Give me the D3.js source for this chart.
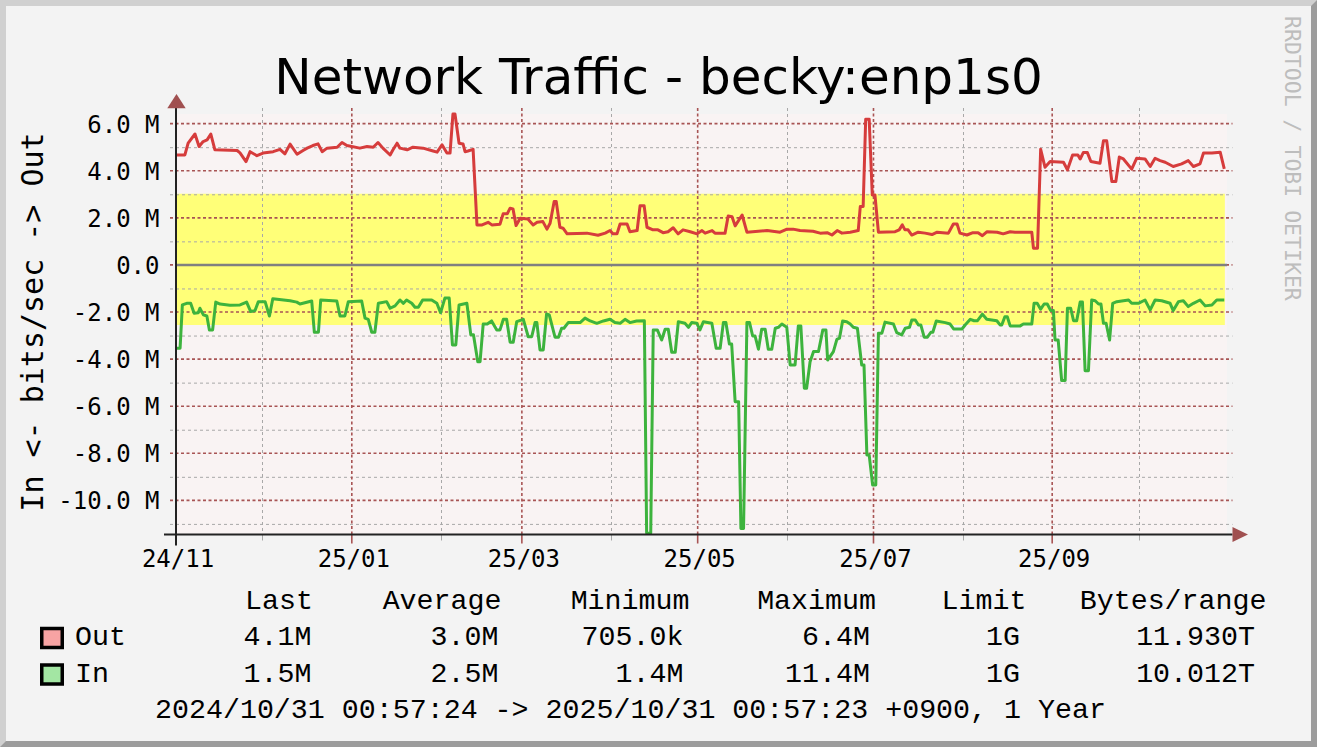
<!DOCTYPE html>
<html>
<head>
<meta charset="utf-8">
<script src="https://cdn.jsdelivr.net/npm/d3@7"></script>
<style>
	body { margin: 0; background: #f3f3f3; }
	svg { display: block; }
</style>
</head>
<body>
<script>
// data (Mbit/s, day offsets from 2024-11-01 JST)
var outDays = [0.3,3.1,4.2,6.6,8.0,9.4,10.8,12.1,13.5,21.2,
	22.2,24.3,25.7,28.1,30.2,33.7,36.1,37.8,39.6,42.0,
	44.1,45.5,47.5,49.3,50.7,52.4,55.9,57.6,59.3,63.8,
	66.3,68.4,70.1,71.8,74.3,75.3,76.7,77.7,80.2,82.2,
	85.7,89.2,90.6,92.3,94.0,95.1,96.1,96.8,98.2,99.6,
	100.3,101.3,103.1,104.4,106.2,108.3,109.6,112.4,113.5,114.9,
	115.9,116.9,118.0,119.4,122.1,123.9,125.3,127.3,128.7,129.8,
	131.2,131.9,133.2,134.3,135.7,142.6,146.4,148.9,150.6,151.6,
	153.0,154.1,156.5,157.5,160.0,161.0,162.4,163.4,165.5,167.2,
	169.0,170.7,172.5,174.2,175.9,178.4,180.8,182.5,183.6,186.0,
	187.0,190.5,191.6,192.9,194.0,196.4,198.1,205.1,209.6,212.0,
	214.1,216.5,221.0,223.5,225.9,227.6,229.4,231.1,233.9,236.7,
	237.4,238.4,239.3,240.5,241.6,242.5,243.7,249.5,250.9,252.0,
	252.9,254.0,255.3,257.5,259.9,262.3,264.1,268.0,269.7,271.0,
	272.0,274.4,276.5,278.3,279.8,281.4,284.9,287.0,289.4,291.1,
	296.9,297.5,298.9,300.0,301.5,303.3,307.9,309.3,311.1,312.9,
	313.7,314.8,316.2,317.4,320.6,321.8,322.9,324.7,326.1,327.3,
	328.7,331.6,333.3,336.2,338.0,339.7,341.4,343.2,346.0,348.9,
	351.2,353.0,355.3,356.5,359.4,362.3,363.7];
var outMbps = [4.67,4.67,5.17,5.56,5.03,5.24,5.31,5.56,4.89,4.86,
	4.76,4.39,4.81,4.64,4.75,4.81,4.91,4.72,5.13,4.70,
	4.86,4.96,5.07,5.14,4.81,4.96,5.00,5.20,5.07,4.96,
	5.03,5.00,5.20,4.96,4.67,4.89,5.17,4.96,4.89,5.00,
	4.96,4.84,4.79,5.10,4.75,4.75,6.41,6.41,5.17,5.14,
	4.81,4.84,4.91,1.70,1.70,1.81,1.70,1.73,2.17,2.17,
	2.41,2.38,1.67,1.98,1.95,1.70,1.81,1.84,1.52,1.77,
	2.69,2.69,1.60,1.56,1.32,1.35,1.26,1.35,1.46,1.32,
	1.32,1.74,1.74,1.41,1.46,2.51,2.51,1.60,1.49,1.49,
	1.37,1.41,1.58,1.32,1.49,1.41,1.32,1.46,1.35,1.46,
	1.35,1.35,2.08,2.05,1.66,2.12,1.39,1.46,1.39,1.52,
	1.52,1.46,1.43,1.35,1.37,1.27,1.46,1.35,1.39,1.46,
	2.48,2.48,6.19,6.19,2.97,2.97,1.39,1.41,1.49,1.70,
	1.49,1.49,1.27,1.39,1.35,1.29,1.39,1.35,1.74,1.74,
	1.35,1.27,1.37,1.37,1.24,1.41,1.39,1.32,1.41,1.39,
	1.39,0.71,0.71,4.91,4.15,4.39,4.36,4.04,4.67,4.67,
	4.50,4.77,4.77,4.39,4.32,5.27,5.27,3.54,3.54,4.58,
	4.50,4.07,4.53,4.50,4.18,4.53,4.43,4.36,4.18,4.29,
	4.43,4.18,4.29,4.75,4.75,4.79,4.08];

var inDays = [0.2,1.4,2.2,3.7,5.1,6.3,7.7,8.3,9.5,10.7,
	11.6,12.7,13.8,15.3,18.7,22.2,24.5,25.9,27.4,28.6,
	30.9,32.4,33.6,39.6,41.9,43.0,47.1,48.0,49.4,50.2,
	55.8,56.9,58.6,59.8,64.4,65.6,66.7,67.9,69.0,70.2,
	73.1,74.3,76.0,77.7,78.9,80.0,81.8,82.9,84.1,85.6,
	88.7,90.5,91.8,93.3,94.8,95.9,97.1,98.2,100.9,102.3,
	103.2,104.7,105.5,106.6,108.0,109.5,111.3,112.4,113.6,114.7,
	115.9,117.0,118.2,120.5,122.2,123.4,124.6,125.2,126.3,127.4,
	128.6,129.5,131.5,132.7,133.8,134.6,136.1,140.2,141.9,143.7,
	146.0,148.3,150.6,152.3,154.1,155.8,157.5,159.8,162.5,163.3,
	164.7,165.6,167.0,168.5,169.7,170.8,172.0,173.2,174.3,176.6,
	177.8,178.9,180.7,181.8,183.0,185.9,187.4,188.8,189.9,190.8,
	192.0,192.8,194.0,195.2,196.0,196.9,198.1,199.0,200.1,200.9,
	202.1,203.2,204.4,205.5,206.7,207.9,209.0,210.2,211.9,213.1,
	214.8,215.9,216.8,218.0,218.8,220.0,221.2,222.9,224.4,225.5,
	226.1,228.1,229.3,230.2,231.3,232.7,233.9,235.0,236.4,237.9,
	238.7,239.7,240.5,241.7,242.8,243.7,244.9,246.0,248.9,250.1,
	251.8,253.0,254.5,255.3,256.5,257.6,258.4,259.6,260.7,261.9,
	262.6,263.8,266.9,268.6,269.8,272.7,273.8,275.6,276.9,278.1,
	279.8,281.3,284.8,285.9,286.5,287.6,288.4,289.4,292.9,294.0,
	296.9,297.7,298.8,300.0,301.2,302.3,303.5,304.4,305.0,306.1,
	307.3,308.5,309.3,310.4,311.4,312.5,313.7,314.5,315.4,316.6,
	317.7,318.9,320.1,320.9,321.8,322.7,323.9,325.0,326.4,328.7,
	330.5,331.6,333.9,336.2,338.0,339.7,342.0,344.9,346.0,347.8,
	349.5,351.2,353.0,355.3,357.1,359.4,361.1,363.7];
var inMbps = [3.54,3.54,1.70,1.63,1.63,2.05,2.03,1.84,2.12,2.17,
	2.76,2.76,1.58,1.66,1.71,1.70,1.58,1.98,1.94,1.56,
	1.56,2.17,1.44,1.52,1.58,1.66,1.53,2.86,2.86,1.49,
	1.53,2.17,2.17,1.56,1.53,2.26,2.31,2.86,2.86,1.63,
	1.56,1.84,1.74,1.49,1.63,1.49,1.63,1.80,1.80,1.49,
	1.49,1.63,2.03,1.41,1.41,3.40,3.40,1.70,1.63,2.97,
	2.97,4.11,4.11,2.51,2.51,2.38,2.76,2.76,2.31,2.31,
	3.28,3.28,2.41,2.31,3.05,3.05,2.45,2.45,3.61,3.61,
	2.08,2.12,3.07,3.07,2.69,2.69,2.45,2.45,2.26,2.38,
	2.48,2.38,2.31,2.45,2.48,2.31,2.45,2.38,2.37,11.40,
	11.40,2.76,2.76,3.19,2.73,2.73,3.71,3.71,2.41,2.48,
	2.65,2.45,2.48,2.76,2.41,2.48,3.54,3.54,2.45,2.45,
	3.36,3.36,5.81,5.81,11.19,11.19,2.45,2.45,3.02,3.02,
	3.58,2.73,2.73,3.58,3.58,2.69,2.65,2.51,2.65,4.25,
	4.25,2.59,2.59,5.24,5.24,4.11,3.68,3.68,2.76,2.76,
	4.04,3.68,3.16,3.11,2.38,2.41,2.51,2.65,2.69,4.25,
	4.25,8.07,8.07,9.35,9.35,2.90,2.90,2.43,2.51,2.88,
	2.97,2.69,2.65,2.34,2.34,2.55,2.55,3.07,3.07,2.86,
	2.86,2.38,2.45,2.51,2.72,2.72,2.55,2.31,2.37,2.37,
	2.09,2.31,2.37,2.55,2.55,2.20,2.20,2.59,2.59,2.51,
	2.51,1.63,1.63,1.88,1.66,1.66,1.94,1.94,3.19,3.19,
	4.91,4.91,1.84,1.84,2.37,2.37,1.58,1.58,4.49,4.49,
	1.49,1.52,1.66,1.66,2.48,2.48,3.19,1.63,1.56,1.52,
	1.49,1.63,1.63,1.49,1.91,1.49,1.52,1.63,1.94,1.56,
	1.52,1.77,1.63,1.49,1.74,1.70,1.49,1.49];

// averages shown as the yellow band
var avgOut = 3.02;
var avgIn = 2.55;
var bandDays = [0, 363.9];

var yLabelValues = [-10, -8, -6, -4, -2, 0, 2, 4, 6];
var legendHeaders = ['Last', 'Average', 'Minimum', 'Maximum', 'Limit', 'Bytes/range'];
var outStats = ['4.1M', '3.0M', '705.0k', '6.4M', '1G', '11.930T'];
var inStats = ['1.5M', '2.5M', '1.4M', '11.4M', '1G', '10.012T'];
var titleText = 'Network Traffic - becky:enp1s0';
var yTitle = 'In <- bits/sec -> Out';
var periodText = '2024/10/31 00:57:24 -> 2025/10/31 00:57:23 +0900, 1 Year';
var watermark = 'RRDTOOL / TOBI OETIKER';

var rangeStart = new Date(Date.UTC(2024, 10, 1));
var rangeEnd = new Date(Date.UTC(2025, 10, 1));

function toPoints (days, vals, sign) {
	return days.map(function (d, i) {
		return { date: d3.utcHour.offset(rangeStart, Math.round(d * 24)), v: sign * vals[i] };
	});
}
var outData = toPoints(outDays, outMbps, 1);
var inData = toPoints(inDays, inMbps, -1);

// chart
var W = 1317, H = 747;
var plot = { left: 176, right: 1228, top: 114, bottom: 534.5 };
var mono = 'DejaVu Sans Mono';
var legendFont = 'Liberation Mono';
var gridRed = '#a85454';

var svg = d3.select('body').append('svg')
	.attr('width', W)
	.attr('height', H);

// frame
svg.append('rect').attr('width', W).attr('height', H).attr('fill', '#9c9c9c');
svg.append('path').attr('d', 'M0,0H' + W + 'L' + (W - 6) + ',6H6V' + (H - 6) + 'L0,' + H + 'Z').attr('fill', '#d0d0d0');
svg.append('rect').attr('x', 6).attr('y', 6).attr('width', W - 12).attr('height', H - 12).attr('fill', '#f3f3f3');

var x = d3.scaleUtc().domain([rangeStart, rangeEnd]).range([plot.left, plot.right]);
var y = d3.scaleLinear().domain([-11.45, 6.41]).range([plot.bottom, plot.top]);

svg.append('rect')
	.attr('x', plot.left)
	.attr('y', plot.top)
	.attr('width', plot.right - plot.left - 1)
	.attr('height', plot.bottom - plot.top)
	.attr('fill', '#f9f3f3');

// average band
var band = d3.area()
	.x(function (d) { return x(d3.utcHour.offset(rangeStart, Math.round(d * 24))); })
	.y0(y(-avgIn))
	.y1(y(avgOut));
svg.append('path').datum(bandDays).attr('d', band).attr('fill', '#ffff78');

// grid
var gridRight = 1232.5;
var months = d3.utcMonth.range(rangeStart, rangeEnd);
var majorMonths = months.filter(function (d, i) { return i % 2 === 0; });
var minorMonths = months.filter(function (d, i) { return i % 2 === 1; });
var minorY = d3.range(-11, 7, 2);
var majorY = d3.range(-10, 7, 2);

var grid = svg.append('g');
grid.selectAll('.hmin').data(minorY).enter().append('line')
	.attr('x1', plot.left - 6).attr('x2', gridRight)
	.attr('y1', function (d) { return y(d) + 0.5; }).attr('y2', function (d) { return y(d) + 0.5; })
	.attr('stroke', '#a8a8a8').attr('stroke-width', 1).attr('stroke-dasharray', '3,3');
grid.selectAll('.vmin').data(minorMonths).enter().append('line')
	.attr('x1', function (d) { return Math.round(x(d)) + 0.5; }).attr('x2', function (d) { return Math.round(x(d)) + 0.5; })
	.attr('y1', plot.top - 6).attr('y2', plot.bottom)
	.attr('stroke', '#a8a8a8').attr('stroke-width', 1).attr('stroke-dasharray', '3,3');
grid.selectAll('.vmintick').data(minorMonths).enter().append('line')
	.attr('x1', function (d) { return Math.round(x(d)) + 0.5; }).attr('x2', function (d) { return Math.round(x(d)) + 0.5; })
	.attr('y1', plot.bottom).attr('y2', plot.bottom + 6)
	.attr('stroke', '#a8a8a8').attr('stroke-width', 1);
grid.selectAll('.hmaj').data(majorY).enter().append('line')
	.attr('x1', plot.left - 6).attr('x2', gridRight)
	.attr('y1', function (d) { return y(d); }).attr('y2', function (d) { return y(d); })
	.attr('stroke', gridRed).attr('stroke-width', 1.6).attr('stroke-dasharray', '3,2.5');
grid.selectAll('.vmaj').data(majorMonths).enter().append('line')
	.attr('x1', function (d) { return x(d); }).attr('x2', function (d) { return x(d); })
	.attr('y1', plot.top - 6).attr('y2', plot.bottom)
	.attr('stroke', gridRed).attr('stroke-width', 1.6).attr('stroke-dasharray', '3,2.5');
grid.selectAll('.vmajtick').data(majorMonths).enter().append('line')
	.attr('x1', function (d) { return x(d); }).attr('x2', function (d) { return x(d); })
	.attr('y1', plot.bottom).attr('y2', plot.bottom + 9)
	.attr('stroke', gridRed).attr('stroke-width', 1.6);

// zero rule
svg.append('line')
	.attr('x1', plot.left).attr('x2', plot.right - 1)
	.attr('y1', y(0)).attr('y2', y(0))
	.attr('stroke', '#808080').attr('stroke-width', 2.5);

// lines
var line = d3.line()
	.x(function (d) { return x(d.date); })
	.y(function (d) { return y(d.v); });

svg.append('path').datum(outData).attr('d', line)
	.attr('fill', 'none').attr('stroke', '#d63c3c').attr('stroke-width', 3).attr('stroke-linejoin', 'round');
svg.append('path').datum(inData).attr('d', line)
	.attr('fill', 'none').attr('stroke', '#3db33d').attr('stroke-width', 3).attr('stroke-linejoin', 'round');

// axis lines + arrows
svg.append('line').attr('x1', plot.left - 12).attr('x2', gridRight).attr('y1', plot.bottom).attr('y2', plot.bottom)
	.attr('stroke', '#222').attr('stroke-width', 2);
svg.append('line').attr('x1', plot.left).attr('x2', plot.left).attr('y1', plot.top - 6).attr('y2', plot.bottom + 11)
	.attr('stroke', '#222').attr('stroke-width', 2);
svg.append('path').attr('d', 'M' + (plot.left - 8.7) + ',' + (plot.top - 5.7) + 'L' + (plot.left + 9.7) + ',' + (plot.top - 5.7) + 'L' + (plot.left + 0.5) + ',' + (plot.top - 20) + 'Z')
	.attr('fill', '#a05050');
svg.append('path').attr('d', 'M' + gridRight + ',' + (plot.bottom - 7.5) + 'L' + gridRight + ',' + (plot.bottom + 7.5) + 'L' + (gridRight + 15.5) + ',' + plot.bottom + 'Z')
	.attr('fill', '#a05050');

// tick labels
var yAxis = d3.axisLeft(y)
	.tickValues(yLabelValues)
	.tickSize(0)
	.tickPadding(16.5)
	.tickFormat(function (d) { return d === 0 ? '0.0' : d.toFixed(1) + ' M'; });
svg.append('g')
	.attr('transform', 'translate(' + plot.left + ',0)')
	.call(yAxis)
	.call(function (g) { g.select('.domain').remove(); })
	.attr('font-family', mono).attr('font-size', 24)
	.selectAll('text').attr('fill', '#000').attr('dy', '0.35em');

var xAxis = d3.axisBottom(x)
	.tickValues(majorMonths)
	.tickSize(0)
	.tickPadding(15)
	.tickFormat(d3.utcFormat('%y/%m'));
svg.append('g')
	.attr('transform', 'translate(1.5,' + plot.bottom + ')')
	.call(xAxis)
	.call(function (g) { g.select('.domain').remove(); })
	.attr('font-family', mono).attr('font-size', 24)
	.selectAll('text').attr('fill', '#000');

// titles
svg.append('text')
	.attr('x', W / 2).attr('y', 94)
	.attr('text-anchor', 'middle')
	.attr('font-family', 'DejaVu Sans').attr('font-size', 50)
	.attr('fill', '#000')
	.text(titleText);

svg.append('text')
	.attr('transform', 'translate(42.5,' + 322 + ') rotate(-90)')
	.attr('text-anchor', 'middle')
	.attr('font-family', mono).attr('font-size', 30)
	.attr('fill', '#000')
	.text(yTitle);

svg.append('text')
	.attr('transform', 'translate(1285,16) rotate(90)')
	.attr('font-family', mono).attr('font-size', 21.5)
	.attr('fill', '#bdbdbd')
	.text(watermark);

// legend
var headerEnds = [313, 501.5, 689.5, 876, 1026.5, 1266.5];
var valueEnds = [311.5, 498.5, 683.5, 870, 1020, 1255];
var legend = svg.append('g').attr('font-family', legendFont).attr('font-size', 28.3).attr('fill', '#000');

legend.selectAll('.hdr').data(legendHeaders).enter().append('text')
	.attr('x', function (d, i) { return headerEnds[i]; }).attr('y', 609)
	.attr('text-anchor', 'end').text(function (d) { return d; });

var rows = [
	{ name: 'Out', fill: '#f7a3a3', stats: outStats, y: 645 },
	{ name: 'In', fill: '#a3e6a3', stats: inStats, y: 681.5 }
];
rows.forEach(function (r) {
	legend.append('rect')
		.attr('x', 41.75).attr('y', r.y - 16.5)
		.attr('width', 20.5).attr('height', 19)
		.attr('fill', r.fill).attr('stroke', '#000').attr('stroke-width', 3.5);
	legend.append('text').attr('x', 75).attr('y', r.y).text(r.name);
	legend.selectAll(null).data(r.stats).enter().append('text')
		.attr('x', function (d, i) { return valueEnds[i]; }).attr('y', r.y)
		.attr('text-anchor', 'end').text(function (d) { return d; });
});

legend.append('text').attr('x', 155).attr('y', 717.5).text(periodText);
</script>
</body>
</html>
